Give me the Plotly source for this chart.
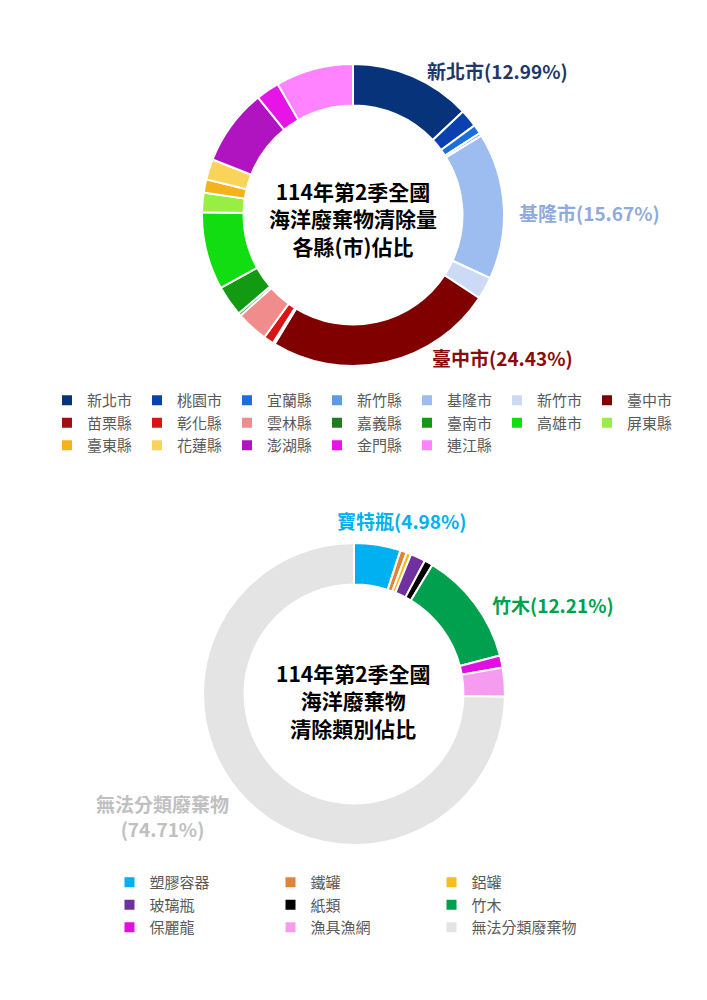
import plotly.graph_objects as go

# 各縣(市)佔比 (%), clockwise from 12 o'clock
county_names = ["新北市", "桃園市", "宜蘭縣", "新竹縣", "基隆市", "新竹市", "臺中市",
                "苗栗縣", "彰化縣", "雲林縣", "嘉義縣", "臺南市", "高雄市", "屏東縣",
                "臺東縣", "花蓮縣", "澎湖縣", "金門縣", "連江縣"]
county_share = [12.99, 1.9, 1.0, 0.3, 15.67, 2.4, 24.43,
                0.2, 1.1, 3.4, 0.3, 3.3, 8.3, 2.1,
                1.4, 2.2, 8.2, 2.5, 8.31]
county_colors = ["#06337A", "#0A40B0", "#1A70D8", "#5B9BE0", "#9DBDF0", "#CCDAF5", "#800000",
                 "#A01010", "#D81414", "#F08C8C", "#217A1E", "#129A12", "#11DD11", "#99EE44",
                 "#F5B21C", "#FAD35A", "#B014C0", "#E614E6", "#FF82FF"]

# 清除類別佔比 (%)
waste_types = ["塑膠容器", "鐵罐", "鋁罐", "玻璃瓶", "紙類", "竹木", "保麗龍", "漁具漁網", "無法分類廢棄物"]
waste_share = [4.98, 0.7, 0.5, 1.6, 0.9, 12.21, 1.3, 3.1, 74.71]
waste_colors = ["#00B0F0", "#E0843A", "#F5BE1E", "#7030A0", "#000000", "#00A04E",
                "#E010E0", "#F59CF0", "#E4E4E4"]

FONT = "Noto Sans CJK TC"
OFF = 8                      # page body margin
W, H = 707 - OFF, 1000 - OFF
ML, MR = 34, 34
PW = W - ML - MR


def px_x(px):
    return (px - OFF - ML) / PW


def px_y(py):
    return 1 - (py - OFF) / H


fig = go.Figure()

fig.add_trace(go.Pie(
    labels=county_names, values=county_share, sort=False, direction="clockwise",
    rotation=0, hole=0.725, textinfo="none", hoverinfo="label+percent",
    marker=dict(colors=county_colors, line=dict(color="white", width=2)),
    domain=dict(x=[px_x(202), px_x(504)], y=[px_y(366), px_y(64)]),
    legend="legend",
))

fig.add_trace(go.Pie(
    labels=waste_types, values=waste_share, sort=False, direction="clockwise",
    rotation=0, hole=0.725, textinfo="none", hoverinfo="label+percent",
    marker=dict(colors=waste_colors, line=dict(color="white", width=2)),
    domain=dict(x=[px_x(203), px_x(505)], y=[px_y(845), px_y(543)]),
    legend="legend2",
))

# centre titles
fig.add_annotation(x=px_x(353), y=px_y(219), xref="paper", yref="paper", showarrow=False,
                   xanchor="center", yanchor="middle",
                   text="<b>114年第2季全國<br>海洋廢棄物清除量<br>各縣(市)佔比</b>",
                   font=dict(family=FONT, size=21, color="black"))
fig.add_annotation(x=px_x(353), y=px_y(700), xref="paper", yref="paper", showarrow=False,
                   xanchor="center", yanchor="middle",
                   text="<b>114年第2季全國<br>海洋廢棄物<br>清除類別佔比</b>",
                   font=dict(family=FONT, size=21, color="black"))

# callout labels
top_callouts = [(0, 425, 70, "#1F3868"), (4, 517, 212, "#8FAADC"), (6, 430, 358, "#8B0A0A")]
for i, x0, y0, c in top_callouts:
    fig.add_annotation(x=px_x(x0), y=px_y(y0), xref="paper", yref="paper", showarrow=False,
                       xanchor="left", yanchor="middle",
                       text=f"<b>{county_names[i]}({county_share[i]:.2f}%)</b>",
                       font=dict(family=FONT, size=19, color=c))

fig.add_annotation(x=px_x(335), y=px_y(520), xref="paper", yref="paper", showarrow=False,
                   xanchor="left", yanchor="middle", text=f"<b>寶特瓶({waste_share[0]:.2f}%)</b>",
                   font=dict(family=FONT, size=19, color=waste_colors[0]))
fig.add_annotation(x=px_x(490), y=px_y(604), xref="paper", yref="paper", showarrow=False,
                   xanchor="left", yanchor="middle",
                   text=f"<b>{waste_types[5]}({waste_share[5]:.2f}%)</b>",
                   font=dict(family=FONT, size=19, color=waste_colors[5]))
fig.add_annotation(x=px_x(162), y=px_y(816), xref="paper", yref="paper", showarrow=False,
                   xanchor="center", yanchor="middle",
                   text=f"<b>{waste_types[8]}<br>({waste_share[8]:.2f}%)</b>",
                   font=dict(family=FONT, size=19, color="#C0C0C0"))

fig.update_layout(
    width=W, height=H,
    margin=dict(l=ML, r=MR, t=0, b=0),
    paper_bgcolor="white", plot_bgcolor="white",
    font=dict(family=FONT),
    legend=dict(orientation="h", x=px_x(362), xanchor="center", y=px_y(384), yanchor="top",
                entrywidth=45, font=dict(family=FONT, size=15, color="#595959")),
    legend2=dict(orientation="h", x=px_x(351), xanchor="center", y=px_y(866), yanchor="top",
                 entrywidth=116, font=dict(family=FONT, size=15, color="#595959")),
)

fig.write_html("out.html")
